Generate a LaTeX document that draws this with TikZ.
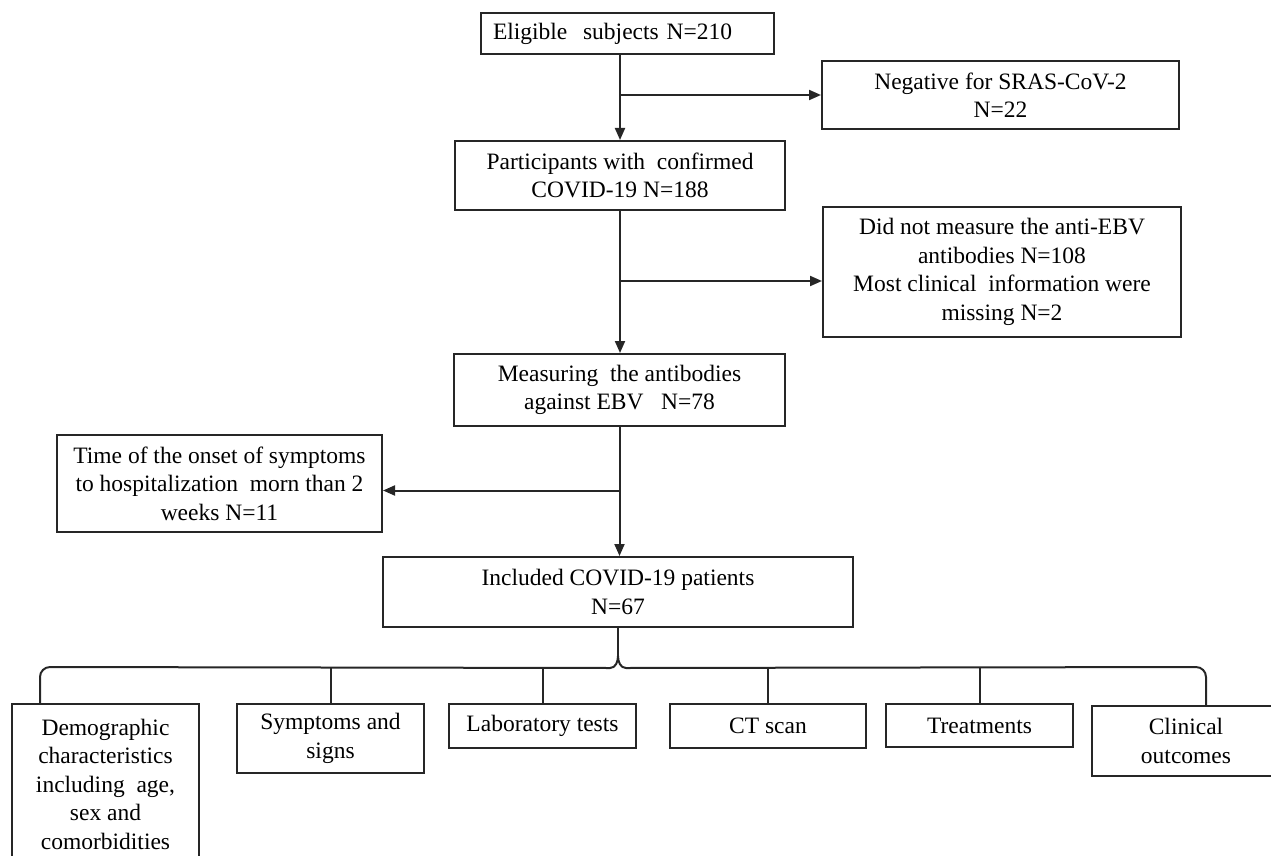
\documentclass[tikz,border=0pt]{standalone}
\usepackage{fontspec}
\setmainfont{Liberation Serif}
\usetikzlibrary{arrows.meta}
\tikzset{block/.style = {draw=black!85, line width=2pt, rectangle, align=center, inner sep=0pt, font=\fontsize{23.5}{28.5}\selectfont},
         arr/.style = {-{Triangle[length=12pt,width=10pt]}, line width=2pt, draw=black!85},
         link/.style = {line width=2pt, draw=black!85}}
\begin{document}
\begin{tikzpicture}[x=1pt,y=-1pt]
        \useasboundingbox (0,0) rectangle (1271,856);
        \node[block, minimum width=293, minimum height=41, text width=269, align=left] (elig) at (627.5,33.5) {Eligible\ \ subjects N=210};
        \node[block, minimum width=357, minimum height=68] (neg) at (1000.5,95) {Negative for SRAS-CoV-2\\N=22};
        \node[block, minimum width=330, minimum height=69] (part) at (620,175.5) {Participants with\ \ confirmed\\COVID-19 N=188};
        \node[block, minimum width=358, minimum height=130] (nomeas) at (1002,272) {Did not measure the anti-EBV\\antibodies N=108\\Most clinical\ \ information were\\missing N=2};
        \node[block, minimum width=331, minimum height=72] (meas) at (619.5,390) {Measuring\ \ the antibodies\\against EBV\ \ \ N=78};
        \node[block, minimum width=325, minimum height=97] (late) at (219.5,483.5) {Time of the onset of symptoms\\to hospitalization\ \ morn than 2\\weeks N=11};
        \node[block, minimum width=470, minimum height=70] (incl) at (618,592) {Included COVID-19 patients\\N=67};
        \node[block, minimum width=187, minimum height=160] (demo) at (105.5,784) {Demographic\\characteristics\\including\ \ age,\\sex and\\comorbidities};
        \node[block, minimum width=187, minimum height=69] (symp) at (330.5,738.5) {Symptoms and\\signs};
        \node[block, minimum width=187, minimum height=44] (lab) at (542.5,726) {Laboratory tests};
        \node[block, minimum width=196, minimum height=44] (ct) at (768,726) {CT scan};
        \node[block, minimum width=187, minimum height=43] (treat) at (979.5,725.5) {Treatments};
        \node[block, minimum width=188, minimum height=70] (clin) at (1186,741) {Clinical\\outcomes};

        \draw[arr] (elig.south -| part.north) -- (part.north);
        \draw[arr] (neg.west -| part.north) -- (neg.west);
        \draw[arr] (part.south) -- (part.south |- meas.north);
        \coordinate (cut2) at ([yshift=-9pt]nomeas.west);
        \draw[arr] (cut2 -| part.south) -- (cut2);
        \draw[arr] (meas.south) -- (meas.south |- incl.north);
        \coordinate (cut3) at ([yshift=-7pt]late.east);
        \draw[arr] (cut3 -| meas.south) -- (cut3);

        \coordinate (tip) at ([yshift=-28pt]incl.south);
        \coordinate (bar) at (0,667);
        \coordinate (lx) at (40,0);
        \coordinate (rx) at (1206,0);
        \draw[link] (incl.south) -- (tip);
        \draw[link] (tip) to[out=-90,in=0] ([xshift=-8pt,yshift=-12pt]tip);
        \draw[link] (tip) to[out=-90,in=180] ([xshift=8pt,yshift=-12pt]tip);
        \draw[link, rounded corners=10pt] ([xshift=-8pt,yshift=-12pt]tip) -- (bar -| lx) -- (demo.north -| lx);
        \draw[link, rounded corners=10pt] ([xshift=8pt,yshift=-12pt]tip) -- (bar -| rx) -- (clin.north -| rx);
        \foreach \b in {symp,lab,ct,treat}
            \draw[link] (\b.north) -- (\b.north |- bar);
\end{tikzpicture}
\end{document}
